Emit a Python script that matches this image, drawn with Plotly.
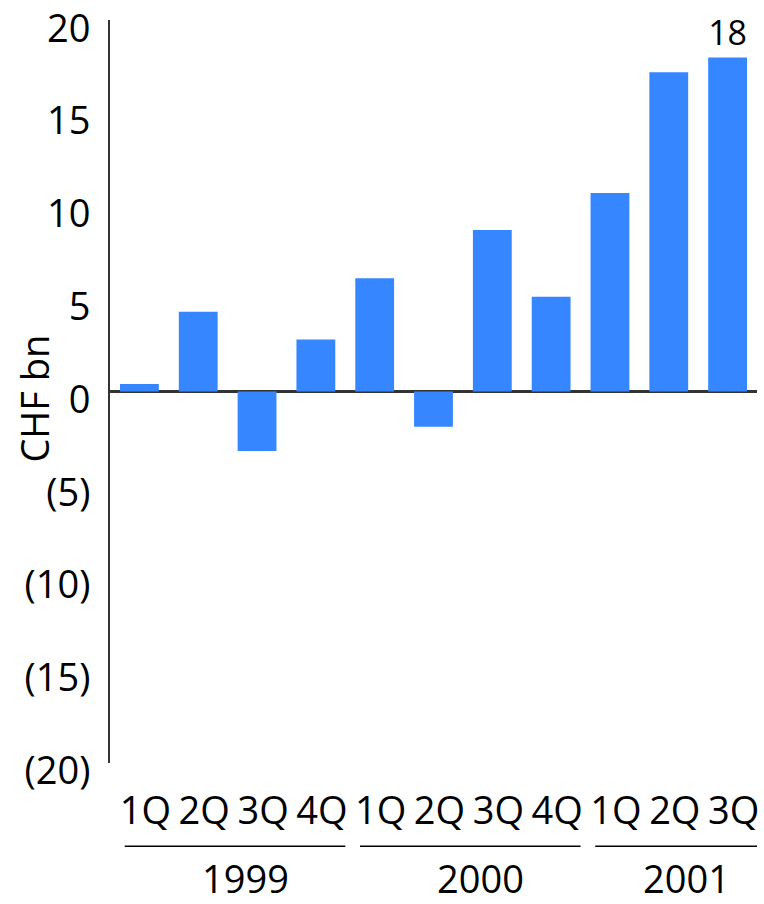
import plotly.graph_objects as go

quarters = ["1Q", "2Q", "3Q", "4Q", "1Q", "2Q", "3Q", "4Q", "1Q", "2Q", "3Q"]
values = [0.4, 4.3, -3.2, 2.8, 6.1, -1.9, 8.7, 5.1, 10.7, 17.2, 18.0]
bar_labels = ["", "", "", "", "", "", "", "", "", "", "18"]
years = ["1999", "2000", "2001"]
year_start = [0, 4, 8]
year_end = [3, 7, 10]
ytick_vals = [-20, -15, -10, -5, 0, 5, 10, 15, 20]
ytick_text = ["(20)", "(15)", "(10)", "(5)", "0", "5", "10", "15", "20"]

FONT = "Open Sans"
FS = 38
BLUE = "#3686FF"
AXIS = "#333333"

x_idx = list(range(len(values)))

def tf():
    return dict(family=FONT, size=FS, color="black", weight=500)

fig = go.Figure()
fig.add_trace(go.Bar(
    x=x_idx, y=values, marker_color=BLUE, marker_line_width=0,
    text=bar_labels, textposition="outside", cliponaxis=False,
    textfont=tf(),
    width=0.66,
))

shapes = []
annotations = []
for yr, s, e in zip(years, year_start, year_end):
    shapes.append(dict(type="line", xref="x", yref="paper",
                       x0=s - 0.25, x1=e + 0.5, y0=-0.112, y1=-0.112,
                       line=dict(color="black", width=1.5)))
    annotations.append(dict(text=yr, xref="x", yref="paper",
                            x=(s + e) / 2 + 0.3, y=-0.155,
                            xanchor="center", yanchor="middle", showarrow=False,
                            font=tf()))

annotations.append(dict(text="CHF bn", xref="paper", yref="paper",
                        x=-0.118, y=0.49, textangle=-90,
                        xanchor="center", yanchor="middle", showarrow=False,
                        font=tf()))

fig.update_layout(
    width=764, height=904,
    margin=dict(l=110, r=7, t=20, b=141, pad=0, autoexpand=False),
    paper_bgcolor="white", plot_bgcolor="white",
    showlegend=False,
    bargap=0.34,
    shapes=shapes,
    annotations=annotations,
    font=dict(family=FONT, size=FS, color="black"),
)
fig.update_xaxes(
    range=[-0.5, 10.5], tickmode="array", tickvals=x_idx, ticktext=quarters,
    showgrid=False, showline=False, zeroline=False, ticks="",
    tickfont=tf(), ticklabeloverflow="allow", automargin=False,
    ticklabelshift=6, ticklabelstandoff=22,
)
fig.update_yaxes(
    range=[-20.02, 20.02], tickmode="array", tickvals=ytick_vals, ticktext=ytick_text,
    showgrid=False, showline=True, linecolor=AXIS, linewidth=2,
    zeroline=True, zerolinecolor=AXIS, zerolinewidth=2.5,
    ticks="", tickfont=tf(), ticklabeloverflow="allow", automargin=False,
    ticklabelstandoff=10, ticklabelshift=8,
)

fig.write_html("out.html")
